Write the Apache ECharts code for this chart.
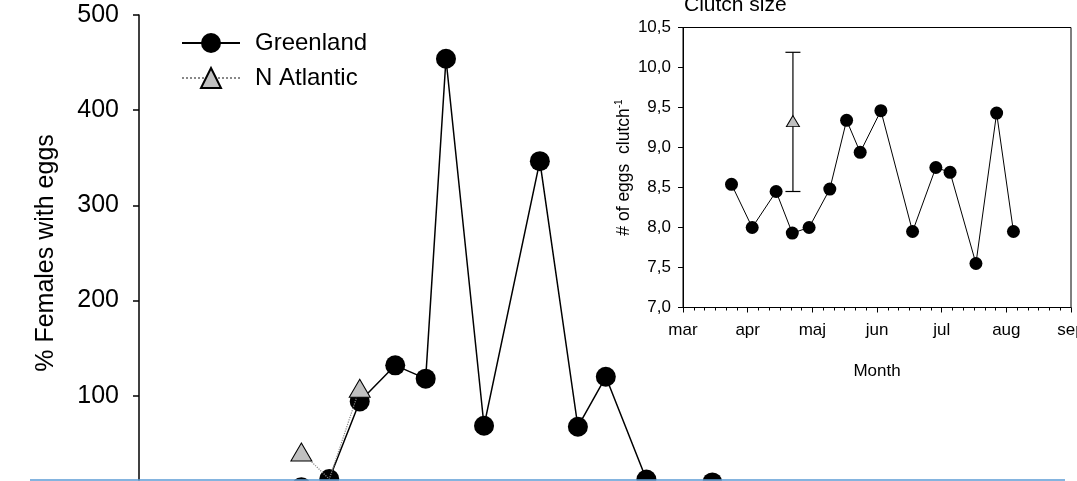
<!DOCTYPE html>
<html>
<head>
<meta charset="utf-8">
<script src="https://cdn.jsdelivr.net/npm/echarts@6/dist/echarts.min.js"></script>
<style>
html,body{margin:0;padding:0;background:#fff;width:1077px;height:481px;overflow:hidden;}
#chart{width:1077px;height:500px;}
</style>
</head>
<body>
<div id="chart"></div>
<script>
// ---- Main chart data (day of year, % females with eggs) ----
const greenlandDays = [64, 75, 87, 101, 113, 121, 136, 158, 173, 184, 200, 215, 226];
const greenlandPct  = [4, 12.5, 94, 132, 118, 454, 68.5, 346.5, 67.5, 120, 12, 0, 9];
const natlDays = [64, 75, 87];
const natlPct  = [41, 12.5, 108];
const mainYTicks = ['', '100', '200', '300', '400', '500'];

// ---- Inset data (months since 1 March, clutch size) ----
const monthLabels = ['mar', 'apr', 'maj', 'jun', 'jul', 'aug', 'sep'];
const clutchMonths = [0.75, 1.07, 1.44, 1.69, 1.95, 2.27, 2.53, 2.74, 3.06, 3.55, 3.91, 4.13, 4.53, 4.85, 5.11];
const clutchSize   = [8.54, 8.00, 8.45, 7.93, 8.00, 8.48, 9.34, 8.94, 9.46, 7.95, 8.75, 8.69, 7.55, 9.43, 7.95];
const natlClutchMonth = [1.70];
const natlClutchMean  = [9.33];
const natlClutchLow   = [8.45];
const natlClutchHigh  = [10.19];

const FONT = 'Liberation Sans, Arial, sans-serif';
const chart = echarts.init(document.getElementById('chart'), null, {renderer: 'canvas'});

const zip = (a, b) => a.map((v, i) => [v, b[i]]);
const natlData = natlDays.map((d, i) => (i === 1 ? {value: [d, natlPct[i]], symbol: 'none'} : [d, natlPct[i]]));

const option = {
  animation: false,
  backgroundColor: '#fff',
  textStyle: {fontFamily: FONT},
  title: {
    text: 'Clutch size', left: 684, top: -5, padding: 0,
    textStyle: {fontFamily: FONT, fontSize: 21, fontWeight: 'normal', color: '#000'}
  },
  legend: {
    data: ['Greenland', 'N Atlantic'],
    orient: 'vertical', left: 181, top: 31, padding: 0, itemWidth: 58, itemHeight: 25, itemGap: 11,
    textStyle: {fontFamily: FONT, fontSize: 24, color: '#000', padding: [0, 0, 0, 10]}
  },
  grid: [
    {left: 139, top: 15, right: 12, height: 476, outerBoundsMode: 'none', containLabel: false},
    {left: 683, top: 27.5, right: 6, height: 280, outerBoundsMode: 'none', containLabel: false,
     show: true, borderColor: '#000', borderWidth: 1, backgroundColor: 'transparent'}
  ],
  xAxis: [
    {gridIndex: 0, type: 'value', min: 0, max: 365, show: false},
    {
      gridIndex: 1, type: 'value', min: 0, max: 6, interval: 1,
      axisLine: {lineStyle: {color: '#000', width: 1}},
      axisTick: {show: true, inside: false, length: 5, lineStyle: {color: '#000'}},
      minorTick: {show: true, splitNumber: 6, length: 3, lineStyle: {color: '#000'}},
      splitLine: {show: false},
      axisLabel: {fontFamily: FONT, fontSize: 17, color: '#000', margin: 14, formatter: v => monthLabels[Math.round(v)] || ''},
      name: 'Month', nameLocation: 'middle', nameGap: 55,
      nameTextStyle: {fontFamily: FONT, fontSize: 17, color: '#000'}
    }
  ],
  yAxis: [
    {
      gridIndex: 0, type: 'value', min: 0, max: 500, interval: 100,
      axisLine: {show: true, lineStyle: {color: '#000', width: 1.5}},
      axisTick: {show: true, inside: false, length: 6, lineStyle: {color: '#000', width: 1.5}},
      splitLine: {show: false},
      axisLabel: {fontFamily: FONT, fontSize: 25, color: '#000', margin: 20, formatter: v => mainYTicks[Math.round(v / 100)] || ''},
      name: '% Females with eggs', nameLocation: 'middle', nameGap: 80,
      nameTextStyle: {fontFamily: FONT, fontSize: 25, color: '#000'}
    },
    {
      gridIndex: 1, type: 'value', min: 7, max: 10.5, interval: 0.5,
      axisLine: {show: true, lineStyle: {color: '#000', width: 1}},
      axisTick: {show: true, inside: false, length: 5, lineStyle: {color: '#000'}},
      splitLine: {show: false},
      axisLabel: {fontFamily: FONT, fontSize: 17, color: '#000', margin: 12, formatter: v => v.toFixed(1).replace('.', ',')},
      name: '{a|# of eggs  clutch}{s|-1}', nameLocation: 'middle', nameGap: 49,
      nameTextStyle: {
        fontFamily: FONT, fontSize: 17.5, color: '#000',
        rich: {
          a: {fontFamily: FONT, fontSize: 17.5, color: '#000', lineHeight: 20},
          s: {fontFamily: FONT, fontSize: 10, color: '#000', verticalAlign: 'top', lineHeight: 20, padding: [0, 0, 9, 0]}
        }
      }
    }
  ],
  series: [
    {
      name: 'Greenland', type: 'line', xAxisIndex: 0, yAxisIndex: 0,
      data: zip(greenlandDays, greenlandPct),
      symbol: 'circle', symbolSize: 20, z: 3,
      lineStyle: {color: '#000', width: 1.5},
      itemStyle: {color: '#000', borderColor: '#000', borderWidth: 0}
    },
    {
      name: 'N Atlantic', type: 'line', xAxisIndex: 0, yAxisIndex: 0,
      data: natlData,
      symbol: 'triangle', symbolSize: [21, 18], z: 4,
      lineStyle: {color: '#888', width: 1.2, type: 'dotted'},
      itemStyle: {color: '#c0c0c0', borderColor: '#000', borderWidth: 1}
    },
    {
      name: 'Greenland clutch', type: 'line', xAxisIndex: 1, yAxisIndex: 1,
      data: zip(clutchMonths, clutchSize),
      symbol: 'circle', symbolSize: 13, z: 3,
      lineStyle: {color: '#000', width: 1},
      itemStyle: {color: '#000'}
    },
    {
      name: 'N Atlantic clutch error', type: 'custom', xAxisIndex: 1, yAxisIndex: 1,
      data: natlClutchMonth.map((m, i) => [m, natlClutchLow[i], natlClutchHigh[i]]),
      encode: {x: 0, y: [1, 2]}, z: 3,
      renderItem: function (params, api) {
        const x = api.value(0);
        const lo = api.coord([x, api.value(1)]);
        const hi = api.coord([x, api.value(2)]);
        const cap = 7.5;
        const st = {stroke: '#000', lineWidth: 1.2};
        return {
          type: 'group',
          children: [
            {type: 'line', shape: {x1: lo[0], y1: lo[1], x2: hi[0], y2: hi[1]}, style: st},
            {type: 'line', shape: {x1: hi[0] - cap, y1: hi[1], x2: hi[0] + cap, y2: hi[1]}, style: st},
            {type: 'line', shape: {x1: lo[0] - cap, y1: lo[1], x2: lo[0] + cap, y2: lo[1]}, style: st}
          ]
        };
      }
    },
    {
      name: 'N Atlantic clutch', type: 'line', xAxisIndex: 1, yAxisIndex: 1,
      data: zip(natlClutchMonth, natlClutchMean),
      symbol: 'triangle', symbolSize: [13, 11], z: 5,
      lineStyle: {width: 0},
      itemStyle: {color: '#c0c0c0', borderColor: '#000', borderWidth: 1}
    }
  ],
  graphic: [
    {type: 'rect', z: 99, shape: {x: 0, y: 480.5, width: 1077, height: 30}, style: {fill: '#fff'}},
    {type: 'line', z: 100, shape: {x1: 30, y1: 480, x2: 1065, y2: 480}, style: {stroke: '#5b9bd5', lineWidth: 1.5}}
  ]
};
chart.setOption(option);
</script>
</body>
</html>
